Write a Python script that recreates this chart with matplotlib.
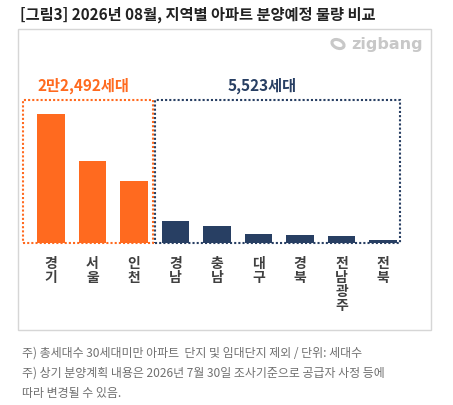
import matplotlib
matplotlib.use("Agg")
import matplotlib.pyplot as plt
from matplotlib.patches import Rectangle, Ellipse

plt.rcParams['font.family'] = ['Noto Sans CJK KR', 'DejaVu Sans']

# data (units: households)
regions = ['경기', '서울', '인천', '경남', '충남', '대구', '경북', '전남광주', '전북']
values = [10600, 6770, 5122, 1780, 1430, 760, 680, 600, 273]
n_capital = 3
capital_label = '2만2,492세대'
other_label = '5,523세대'

title = '[그림3] 2026년 08월, 지역별 아파트 분양예정 물량 비교'
notes = ['주) 총세대수 30세대미만 아파트  단지 및 임대단지 제외 / 단위: 세대수',
         '주) 상기 분양계획 내용은 2026년 7월 30일 조사기준으로 공급자 사정 등에',
         '따라 변경될 수 있음.']

orange = '#FF6A1F'
navy = '#283F63'

W, H = 453, 405
fig = plt.figure(figsize=(W / 100, H / 100), dpi=100)

def fx(px):
    return px / W

def fy(py):
    return 1 - py / H

# outer frame
fig.patches.append(Rectangle((fx(18), fy(330)), fx(431) - fx(18), fy(29) - fy(330),
                             transform=fig.transFigure, fill=False,
                             edgecolor='#d6d6d6', linewidth=1.0))

fig.text(fx(20), fy(15), title, fontsize=11, fontweight='bold', color='#222222',
         va='center', ha='left')

# logo
fig.text(fx(423), fy(44), 'zigbang', fontsize=11.5, fontweight='bold', color='#c8c8c8',
         va='center', ha='right', family=['DejaVu Sans'])
fig.patches.append(Ellipse((fx(338), fy(44)), fx(13), fx(9), angle=-30,
                           transform=fig.transFigure, fill=False,
                           edgecolor='#c8c8c8', linewidth=2.2))

ax = fig.add_axes([fx(17.8), fy(243), fx(407.9) - fx(17.8), fy(97) - fy(243)])
ax.set_xlim(-0.8, 8.6)
ax.set_ylim(0, 12000)
ax.axis('off')

x = list(range(len(regions)))
colors = [orange] * n_capital + [navy] * (len(regions) - n_capital)
ax.bar(x, values, width=0.67, color=colors, zorder=2)

box_top = 11750
ax.add_patch(Rectangle((-0.675, 0), 2.46 + 0.675, box_top, fill=False,
                       edgecolor=orange, linestyle=(0, (1, 1)), linewidth=1.5,
                       clip_on=False, zorder=3))
ax.add_patch(Rectangle((2.5, 0), 8.41 - 2.5, box_top, fill=False,
                       edgecolor=navy, linestyle=(0, (1, 1)), linewidth=1.5,
                       clip_on=False, zorder=3))

ax.text(-0.33, 12900, capital_label, fontsize=11, fontweight='bold', color=orange,
        ha='left', va='center')
ax.text(5.08, 12900, other_label, fontsize=11, fontweight='bold', color=navy,
        ha='center', va='center')

# vertical stacked tick labels
for xi, name in zip(x, regions):
    ax.text(xi, -1150, '\n'.join(name), fontsize=10, fontweight='bold', color='#404040',
            ha='center', va='top', linespacing=1.0)

for i, line in enumerate(notes):
    fig.text(fx(22), fy(353 + i * 20), line, fontsize=8.6, color='#707070',
             ha='left', va='center')

fig.savefig('out.png', dpi=100)
